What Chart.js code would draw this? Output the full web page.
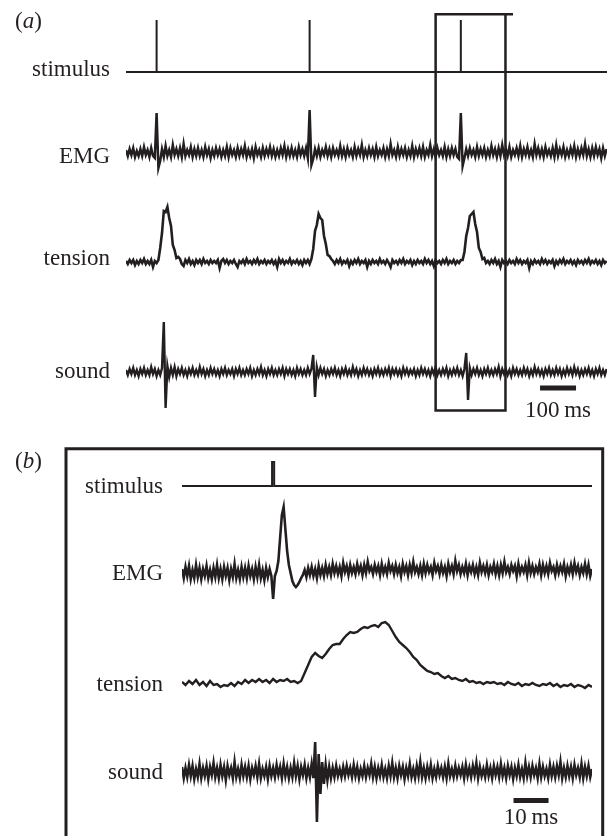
<!DOCTYPE html>
<html>
<head>
<meta charset="utf-8">
<script src="https://cdn.jsdelivr.net/npm/chart.js@4.4.0/dist/chart.umd.min.js"></script>
<style>
  html, body { margin: 0; padding: 0; background: #fff; }
  body { width: 611px; height: 836px; position: relative; overflow: hidden; }
  canvas { position: absolute; left: 0; }
  #panelA { top: 0; }
  #panelB { top: 440px; }
</style>
</head>
<body>
<canvas id="panelA" width="611" height="420"></canvas>
<canvas id="panelB" width="611" height="396"></canvas>
<script>
// ── PANEL (a): 5 ms per sample, 0–1335 ms ──
const STEP_A = 5;
const END_A = 1336;
const stimTimesA = [85, 510, 930];
const emgA = [
  3,-3,4,-2,5,-4,2,-3,4,-3,6,-2,3,-4,5,-3,-5,40,-15,-8,
  4,-4,7,-3,3,-4,8,-2,4,-3,5,-4,9,-3,3,-2,6,-4,4,-3,
  5,-3,3,-4,6,-2,4,-5,3,-3,5,-2,4,-4,3,-3,6,-4,5,-2,
  3,-4,5,-3,4,-2,7,-4,3,-3,4,-5,6,-2,3,-4,5,-3,4,-2,
  6,-3,4,-4,3,-3,5,-2,7,-4,4,-3,5,-3,3,-4,6,-2,4,-3,
  5,-5,43,-12,-6,4,-3,5,-4,3,-2,6,-3,4,-4,5,-2,3,-3,7,
  -3,4,-4,5,-2,3,-4,6,-3,4,-2,8,-4,3,-3,5,-2,4,-4,6,
  -3,3,-2,5,-4,4,-3,9,-2,3,-4,6,-3,4,-2,5,-4,3,-3,7,
  -4,4,-2,5,-3,6,-4,3,-2,8,-3,4,-4,5,-2,3,-3,6,-4,4,
  -3,5,-2,4,-4,-6,40,-13,-5,4,-3,5,-2,3,-4,6,-3,4,-2,5,
  -4,3,-3,7,-2,4,-4,5,-3,8,-2,4,-3,6,-4,3,-2,5,-3,7,
  -4,4,-2,6,-3,3,-4,9,-2,5,-3,4,-4,6,-2,3,-3,5,-4,8,
  -3,4,-2,6,-4,3,-3,5,-2,7,-4,4,-3,5,-2,9,-3,4,-4,5,
  -3,6,-2,4,-5,5,-3,4
];
const tensionA = [
  1,-2,2,-1,2,-3,1,-2,2,-1,3,-2,1,-2,2,-5,1,-1,2,14,
  29,51,50,55,44,36,17,12,4,5,3,-2,-4,2,-1,3,-2,1,-3,2,
  -1,2,-2,3,-1,1,-2,2,-1,1,-1,2,-6,1,3,-1,2,-2,1,-1,
  2,-2,-5,1,-1,2,-2,3,-1,1,-2,2,-1,3,-2,1,-1,2,-2,1,
  -1,2,-2,1,-5,3,-1,2,-2,1,-1,3,-2,1,-1,2,-2,1,-3,2,
  -1,2,-2,3,13,31,37,48,44,42,26,18,7,6,3,1,-2,2,-1,3,
  -2,1,-1,2,-4,1,-2,2,-1,3,-2,1,-1,2,-5,1,-2,2,-1,1,
  -2,3,-1,1,-2,2,-1,-5,2,-1,1,-2,2,-1,3,-2,1,-1,2,-3,
  1,-2,2,-1,1,-2,3,-1,2,-2,1,-4,2,-1,1,-2,2,-1,3,-2,
  1,-1,2,-2,1,-1,2,2,10,26,34,46,48,50,38,30,14,10,3,4,
  -1,1,-2,2,-1,3,-2,1,-5,2,-1,1,-2,2,-1,1,-2,3,-1,2,
  -2,1,-1,2,-6,1,-2,2,-1,1,-2,3,-1,2,-2,1,-1,2,-4,1,
  -2,2,-1,3,-2,1,-1,2,-2,1,-3,2,-1,1,-2,2,-1,3,-2,1,
  -1,2,-2,1,-3,2,-1,1
];
const soundA = [
  2,-3,3,-2,4,-3,2,-4,3,-2,4,-3,2,-3,5,-2,3,-4,2,-3,
  4,50,-36,6,-5,4,-3,5,-4,3,-2,4,-3,2,-4,3,-2,4,-3,2,
  -3,5,-2,3,-4,2,-3,4,-2,3,-3,2,-4,3,-2,4,-3,2,-2,3,
  -4,3,-2,4,-3,2,-3,3,-2,4,-4,2,-3,3,-2,5,-3,2,-4,3,
  -2,4,-3,2,-3,3,-2,4,-4,3,-2,3,-3,2,-4,4,-2,3,-3,2,
  -3,4,-2,3,17,-25,5,-3,4,-2,3,-4,2,-3,3,-2,4,-3,2,-4,
  3,-2,4,-3,2,-3,5,-2,3,-4,2,-3,4,-2,3,-3,2,-4,3,-2,
  4,-3,2,-3,3,-2,4,-4,3,-2,3,-3,2,-4,4,-2,3,-3,2,-2,
  3,-4,2,-3,4,-2,3,-3,2,-4,3,-2,5,-3,2,-3,3,-2,4,-4,
  2,-3,3,-2,4,-3,2,-4,3,19,-28,4,-3,3,-2,4,-3,2,-4,3,
  -2,4,-3,2,-3,3,-2,5,-4,3,-2,3,-3,2,-4,4,-2,3,-3,2,
  -3,4,-2,3,-4,2,-3,5,-2,3,-3,2,-4,3,-2,4,-3,2,-3,4,
  -2,3,-4,2,-3,4,-2,3,-3,5,-2,3,-4,2,-3,3,-2,4,-3,2,
  -4,3,-2,4,-3,2,-3,3
];
const boxA = [860, 1054, 1075];      // window shown in (b); top edge overhangs
const scaleBarA = [1150, 1250];      // 100 ms

// ── PANEL (b): 0.5 ms per sample (tension 1 ms), 0–117 ms ──
const STEP_B = 0.5;
const STEP_B_TENSION = 1;
const END_B = 117;
const stimB = [25.7, 26.3];
const emgB = [
  4,-5,6,-3,7,-6,3,-5,8,-4,5,-6,4,-3,7,-5,3,-6,5,-4,
  8,-5,4,-6,6,-3,5,-7,4,-4,9,-5,3,-6,6,-4,5,-5,7,-3,
  4,-6,6,-4,8,-5,3,-7,5,-4,4,-3,-26,-3,2,12,35,58,66,44,
  22,8,0,-8,-12,-14,-12,-9,-5,-2,3,-4,5,-2,6,-3,4,-5,7,-2,
  5,-3,8,-1,6,-2,9,0,7,-1,6,-3,10,1,7,-2,8,0,6,-1,
  9,1,7,-2,8,0,11,2,6,-1,8,1,7,-2,9,0,6,-1,10,2,
  7,-1,8,0,6,-3,9,1,7,-2,8,0,11,1,6,-1,7,-2,9,0,
  8,1,6,-2,10,2,7,-1,8,0,6,-3,9,1,7,-1,12,2,8,-1,
  6,0,9,-2,7,1,8,-1,6,-2,10,1,7,0,8,-2,6,1,9,-1,
  7,-2,8,0,11,1,6,-1,8,2,7,-3,9,0,6,1,8,-2,10,0,
  7,-1,6,1,9,-2,8,0,7,-1,10,2,6,-2,8,0,7,1,9,-3,
  6,0,8,-1,10,1,7,-2,6,0,9,-1,8,-3,4
];
const tensionB = [
  1,-2,2,-1,3,-2,1,-3,2,-2,
  -1,-4,-2,-3,0,-3,1,-1,3,0,
  3,1,4,1,3,0,4,1,3,2,
  4,1,2,0,2,10,18,26,30,27,
  25,29,34,38,39,39,44,48,51,50,
  51,54,56,55,57,58,56,60,61,58,
  52,46,41,38,35,31,26,23,18,15,
  12,11,9,10,7,5,7,4,5,3,
  2,4,1,2,0,1,-1,1,0,1,
  -1,0,-2,1,-1,-2,0,-3,-1,-2,
  0,-2,-3,-1,-2,0,-3,-1,-4,-2,
  -3,-1,-4,-2,-3,-5,-2,-4
];
const soundB = [
  5,-6,4,-5,7,-4,6,-7,3,-5,8,-6,4,-4,6,-7,5,-3,9,-5,
  4,-6,7,-4,5,-8,6,-3,4,-6,10,-5,3,-6,7,-4,5,-5,6,-7,
  4,-3,6,-5,8,-6,3,-4,5,-7,6,-4,4,-5,7,-3,5,-6,8,-4,
  5,-6,4,-5,9,-4,6,-7,5,-3,7,-6,4,-5,8,-6,30,-50,18,-22,
  10,-12,7,-8,5,-6,4,-5,6,-4,3,-5,5,-4,6,-3,4,-5,7,-4,
  5,-6,3,-4,6,-5,4,-3,8,-5,5,-6,4,-4,7,-5,3,-6,6,-4,
  9,-5,4,-6,6,-3,5,-7,4,-4,8,-5,3,-6,6,-4,10,-5,4,-6,
  5,-4,7,-6,3,-5,6,-3,4,-5,5,-6,8,-4,3,-5,6,-4,4,-3,
  5,-6,7,-4,4,-5,6,-3,9,-6,5,-4,3,-5,7,-4,4,-6,6,-3,
  5,-5,8,-4,4,-6,6,-3,5,-7,4,-4,7,-5,3,-6,9,-4,5,-5,
  6,-3,4,-6,8,-5,5,-4,3,-6,7,-4,5,-5,6,-3,10,-6,4,-5,
  6,-4,5,-6,7,-3,4,-5,8,-6,5,-4,6,-5,3
];
const scaleBarB = [94.6, 104.6];     // 10 ms

const INK = '#231f20';
const FONT = '23px "Liberation Serif", "DejaVu Serif", serif';

function series(values, step) {
  return values.map((v, i) => ({ x: i * step, y: v }));
}

function pulseTrain(times, end) {
  const pts = [{ x: 0, y: 0 }];
  times.forEach(t => pts.push({ x: t, y: 0 }, { x: t, y: 1 }, { x: t, y: 0 }));
  pts.push({ x: end, y: 0 });
  return pts;
}

function pulse(onOff, end) {
  return [
    { x: 0, y: 0 }, { x: onOff[0], y: 0 }, { x: onOff[0], y: 1 },
    { x: onOff[1], y: 1 }, { x: onOff[1], y: 0 }, { x: end, y: 0 }
  ];
}

function trace(data, axis, width) {
  return { data, yAxisID: axis, borderColor: INK, borderWidth: width, pointRadius: 0, tension: 0, fill: false };
}

function scaleBar(range, level, axis) {
  return { data: range.map(x => ({ x, y: level })), yAxisID: axis, borderColor: INK,
           borderWidth: 5, borderCapStyle: 'butt', pointRadius: 0 };
}

// hidden y axis that puts value 0 at pixel `base`, `gain` px per unit
function band(base, gain, height) {
  return { type: 'linear', display: false, min: (base - height) / gain, max: base / gain };
}

// ── LABELS, BOX, FRAME ──
const figureBits = {
  id: 'figureBits',
  afterDatasetsDraw(chart, args, o) {
    const { ctx, chartArea, scales } = chart;
    const x = scales.x;
    ctx.save();
    ctx.fillStyle = INK;
    ctx.strokeStyle = INK;
    ctx.font = FONT;
    ctx.textBaseline = 'alphabetic';

    ctx.textAlign = 'right';
    o.rows.forEach(r => {
      ctx.fillText(r.text, chartArea.left - o.gap, scales[r.axis].getPixelForValue(0) + r.dy);
    });

    let tx = o.tag.x;
    ctx.textAlign = 'left';
    ctx.fillText('(', tx, o.tag.y);
    tx += ctx.measureText('(').width;
    ctx.font = 'italic ' + FONT;
    ctx.fillText(o.tag.letter, tx, o.tag.y);
    tx += ctx.measureText(o.tag.letter).width;
    ctx.font = FONT;
    ctx.fillText(')', tx, o.tag.y);

    const b = o.bar;
    ctx.textAlign = 'center';
    ctx.fillText(b.text, x.getPixelForValue((b.range[0] + b.range[1]) / 2),
                 scales[b.axis].getPixelForValue(b.level) + b.dy);

    if (o.box) {
      const l = x.getPixelForValue(o.box.range[0]);
      const r = x.getPixelForValue(o.box.range[1]);
      const e = x.getPixelForValue(o.box.range[2]);
      ctx.lineWidth = 2.5;
      ctx.beginPath();
      ctx.moveTo(e, o.box.top);
      ctx.lineTo(l, o.box.top);
      ctx.lineTo(l, o.box.bottom);
      ctx.lineTo(r, o.box.bottom);
      ctx.lineTo(r, o.box.top);
      ctx.stroke();
    }
    if (o.frame) {
      const f = o.frame;
      ctx.lineWidth = 3;
      ctx.beginPath();
      ctx.moveTo(f.left, chart.height);
      ctx.lineTo(f.left, f.top);
      ctx.lineTo(f.right, f.top);
      ctx.lineTo(f.right, chart.height);
      ctx.stroke();
    }
    ctx.restore();
  }
};

const baseOptions = (padLeft, padRight) => ({
  responsive: false,
  animation: false,
  events: [],
  layout: { padding: { left: padLeft, right: padRight, top: 0, bottom: 0 } },
  plugins: { legend: { display: false }, tooltip: { enabled: false } }
});

// ── PANEL (a) ──
const optA = baseOptions(126, 4);
optA.scales = {
  x: { type: 'linear', display: false, min: 0, max: END_A },
  yStim: band(72, 52, 420),
  yEmg: band(153, 1, 420),
  yTen: band(262, 1, 420),
  ySnd: band(372, 1, 420)
};
optA.plugins.figureBits = {
  gap: 16,
  rows: [
    { axis: 'yStim', text: 'stimulus', dy: 4 },
    { axis: 'yEmg', text: 'EMG', dy: 10 },
    { axis: 'yTen', text: 'tension', dy: 3 },
    { axis: 'ySnd', text: 'sound', dy: 6 }
  ],
  tag: { letter: 'a', x: 15, y: 28 },
  bar: { range: scaleBarA, axis: 'ySnd', level: -16, dy: 29, text: '100\u2009ms' },
  box: { range: boxA, top: 14.3, bottom: 410.5 }
};

new Chart(document.getElementById('panelA'), {
  type: 'line',
  data: {
    datasets: [
      trace(pulseTrain(stimTimesA, END_A), 'yStim', 2),
      trace(series(emgA, STEP_A), 'yEmg', 2.5),
      trace(series(tensionA, STEP_A), 'yTen', 2.6),
      trace(series(soundA, STEP_A), 'ySnd', 2.4),
      scaleBar(scaleBarA, -16, 'ySnd')
    ]
  },
  options: optA,
  plugins: [figureBits]
});

// ── PANEL (b) ──
const optB = baseOptions(182, 19);
optB.scales = {
  x: { type: 'linear', display: false, min: 0, max: END_B },
  yStim: band(46, 24, 396),
  yEmg: band(133, 1, 396),
  yTen: band(243, 1, 396),
  ySnd: band(332, 1, 396)
};
optB.plugins.figureBits = {
  gap: 19,
  rows: [
    { axis: 'yStim', text: 'stimulus', dy: 7 },
    { axis: 'yEmg', text: 'EMG', dy: 7 },
    { axis: 'yTen', text: 'tension', dy: 8 },
    { axis: 'ySnd', text: 'sound', dy: 7 }
  ],
  tag: { letter: 'b', x: 15, y: 28 },
  bar: { range: scaleBarB, axis: 'ySnd', level: -28.5, dy: 23.5, text: '10\u2009ms' },
  frame: { left: 66, top: 8.7, right: 602.7 }
};

new Chart(document.getElementById('panelB'), {
  type: 'line',
  data: {
    datasets: [
      trace(pulse(stimB, END_B), 'yStim', 2),
      trace(series(emgB, STEP_B), 'yEmg', 2.6),
      trace(series(tensionB, STEP_B_TENSION), 'yTen', 2.4),
      trace(series(soundB, STEP_B), 'ySnd', 2.6),
      scaleBar(scaleBarB, -28.5, 'ySnd')
    ]
  },
  options: optB,
  plugins: [figureBits]
});
</script>
</body>
</html>
